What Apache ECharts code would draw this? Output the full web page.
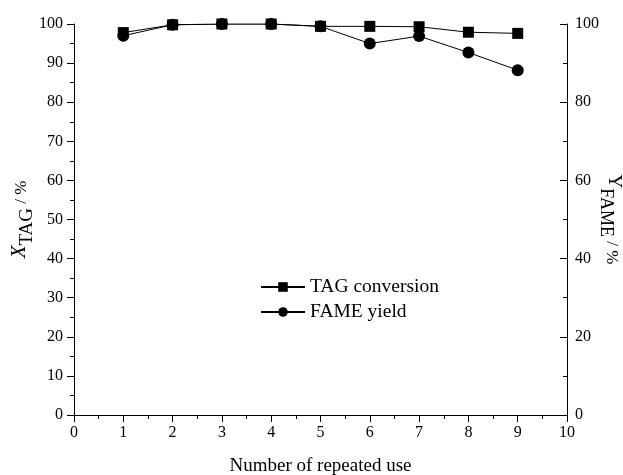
<!DOCTYPE html>
<html><head><meta charset="utf-8">
<script src="https://cdn.jsdelivr.net/npm/echarts@6/dist/echarts.min.js"></script>
<style>html,body{margin:0;padding:0;background:#fff}#c{width:623px;height:475px}</style>
</head><body><div id="c"></div>
<script>
const runs = [1, 2, 3, 4, 5, 6, 7, 8, 9];
const tagConversion = [97.8, 99.8, 100, 100, 99.4, 99.4, 99.3, 97.9, 97.6];
const fameYield = [97.0, 99.8, 100, 100, 99.4, 95.0, 96.9, 92.7, 88.2];
const seriesNames = ['TAG conversion', 'FAME yield'];
const xTitle = 'Number of repeated use';

const F = 'Liberation Serif, Times New Roman, serif';
const chart = echarts.init(document.getElementById('c'), null, {renderer: 'canvas'});
const axisBase = {
  axisLine: {show: true, lineStyle: {color: '#000', width: 1}},
  axisTick: {show: true, length: 7, lineStyle: {color: '#000'}},
  minorTick: {show: true, splitNumber: 2, length: 4, lineStyle: {color: '#000'}},
  splitLine: {show: false},
  nameMoveOverlap: false,
  axisLabel: {color: '#000', fontFamily: F, fontSize: 16}
};
chart.setOption({
  animation: false,
  backgroundColor: '#fff',
  grid: {left: 74, right: 56, top: 24, bottom: 60, outerBoundsMode: 'none', containLabel: false},
  legend: {
    data: seriesNames,
    orient: 'vertical', left: 255, top: 272,
    itemWidth: 44, itemHeight: 12, itemGap: 5,
    textStyle: {fontFamily: F, fontSize: 19.5, color: '#000'}
  },
  xAxis: Object.assign({}, axisBase, {
    type: 'value', min: 0, max: 10, interval: 1,
    name: xTitle, nameLocation: 'middle', nameGap: 42,
    nameTextStyle: {fontFamily: F, fontSize: 19, color: '#000'},
    axisLabel: Object.assign({}, axisBase.axisLabel, {margin: 10})
  }),
  yAxis: [
    Object.assign({}, axisBase, {
      type: 'value', min: 0, max: 100, interval: 10, position: 'left',
      name: '{i|X}{s|TAG}{n| / %}', nameLocation: 'middle', nameGap: 37, nameRotate: 90,
      nameTextStyle: {
        fontFamily: F, color: '#000',
        rich: {
          i: {fontFamily: F, fontStyle: 'italic', fontSize: 21, color: '#000', verticalAlign: 'top', lineHeight: 28},
          s: {fontFamily: F, fontSize: 19, color: '#000', verticalAlign: 'bottom', lineHeight: 28, padding: [7, 0, 0, 0]},
          n: {fontFamily: F, fontSize: 17, color: '#000', verticalAlign: 'top', lineHeight: 28, padding: [4, 0, 0, 0]}
        }
      },
      axisLabel: Object.assign({}, axisBase.axisLabel, {margin: 11})
    }),
    Object.assign({}, axisBase, {
      type: 'value', min: 0, max: 100, interval: 20, position: 'right',
      axisTick: {show: true, inside: true, length: 7, lineStyle: {color: '#000'}},
      minorTick: {show: true, splitNumber: 2, length: 4, lineStyle: {color: '#000'}},
      name: '{i|Y}{s|FAME}{n| / %}', nameLocation: 'middle', nameGap: 30, nameRotate: -90,
      nameTextStyle: {
        fontFamily: F, color: '#000',
        rich: {
          i: {fontFamily: F, fontSize: 19, color: '#000', verticalAlign: 'top', lineHeight: 26},
          s: {fontFamily: F, fontSize: 18, color: '#000', verticalAlign: 'bottom', lineHeight: 26, padding: [6, 0, 0, 0]},
          n: {fontFamily: F, fontSize: 17, color: '#000', verticalAlign: 'top', lineHeight: 26, padding: [3, 0, 0, 0]}
        }
      },
      axisLabel: Object.assign({}, axisBase.axisLabel, {margin: 8})
    })
  ],
  series: [
    {
      name: seriesNames[0], type: 'line', yAxisIndex: 0,
      data: runs.map((r, i) => [r, tagConversion[i]]),
      symbol: 'rect', symbolSize: 11, showAllSymbol: true,
      itemStyle: {color: '#000'}, lineStyle: {color: '#000', width: 1}, z: 3
    },
    {
      name: seriesNames[1], type: 'line', yAxisIndex: 1,
      data: runs.map((r, i) => [r, fameYield[i]]),
      symbol: 'circle', symbolSize: 12, showAllSymbol: true,
      itemStyle: {color: '#000'}, lineStyle: {color: '#000', width: 1}, z: 2
    }
  ]
});
</script></body></html>
